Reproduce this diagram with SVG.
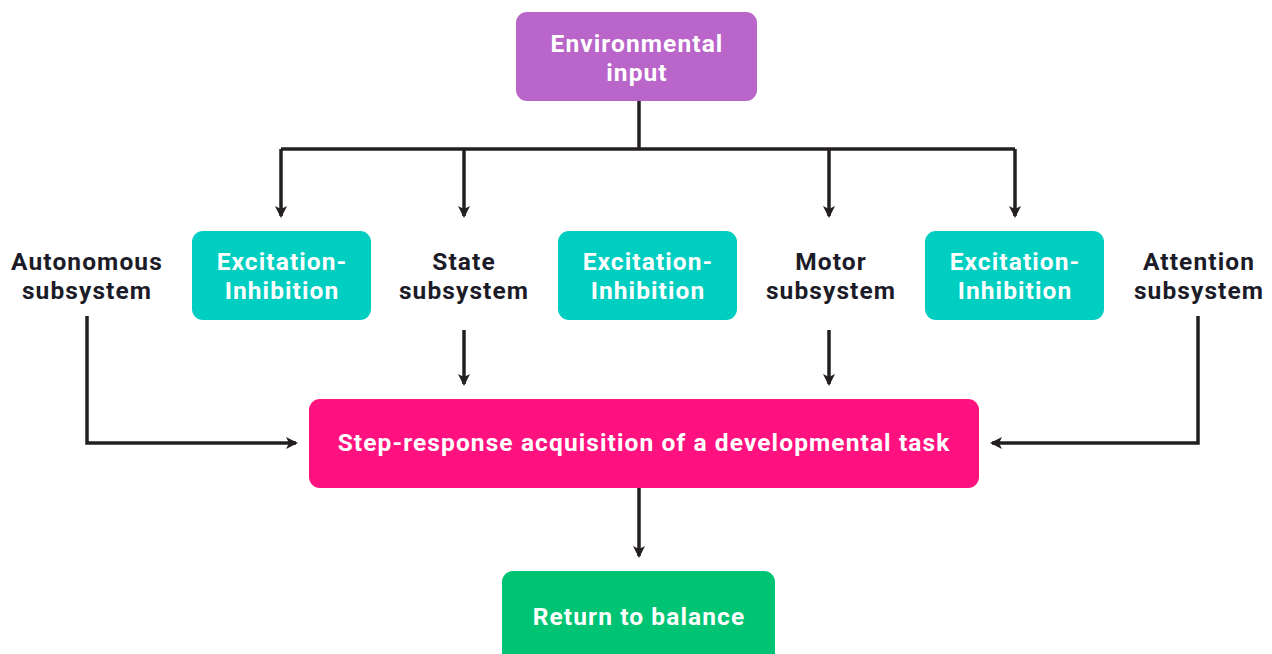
<svg xmlns="http://www.w3.org/2000/svg" width="1272" height="654" viewBox="0 0 1272 654">
<defs>
<marker id="ah" markerWidth="12" markerHeight="12" refX="10" refY="6" orient="auto" markerUnits="userSpaceOnUse">
<path d="M0,0 L12,6 L0,12 L3,6 Z" fill="#231f20"/>
</marker>
<style>
.t{font-family:Roboto,"Liberation Sans",sans-serif;font-weight:700;font-size:24.5px;letter-spacing:1.1px;text-anchor:middle}
.w{fill:#ffffff}
.d{fill:#1c1c28}
.c{fill:none;stroke:#231f20;stroke-width:3.5}
</style>
</defs>
<rect width="1272" height="654" fill="#ffffff"/>
<g id="connectors">
<path class="c" d="M639,101 V149"/>
<path class="c" d="M281,149 H1015"/>
<path class="c" d="M281,149 V216" marker-end="url(#ah)"/>
<path class="c" d="M464,149 V216" marker-end="url(#ah)"/>
<path class="c" d="M829,149 V216" marker-end="url(#ah)"/>
<path class="c" d="M1015,149 V216" marker-end="url(#ah)"/>
<path class="c" d="M87,316 V443 H296" marker-end="url(#ah)"/>
<path class="c" d="M464,330 V384" marker-end="url(#ah)"/>
<path class="c" d="M829,330 V384" marker-end="url(#ah)"/>
<path class="c" d="M1198,316 V443 H992" marker-end="url(#ah)"/>
<path class="c" d="M639,488 V556" marker-end="url(#ah)"/>
</g>
<g id="env">
<rect x="516" y="12" width="241" height="89" rx="11" fill="#b965c9"/>
<text class="t w"><tspan x="637" y="52">Environmental</tspan><tspan x="637" y="81">input</tspan></text>
</g>
<g id="ei1">
<rect x="192" y="231" width="179" height="89" rx="11" fill="#00cec0"/>
<text class="t w"><tspan x="282" y="270">Excitation-</tspan><tspan x="282" y="299">Inhibition</tspan></text>
</g>
<g id="ei2">
<rect x="558" y="231" width="179" height="89" rx="11" fill="#00cec0"/>
<text class="t w"><tspan x="648" y="270">Excitation-</tspan><tspan x="648" y="299">Inhibition</tspan></text>
</g>
<g id="ei3">
<rect x="925" y="231" width="179" height="89" rx="11" fill="#00cec0"/>
<text class="t w"><tspan x="1015" y="270">Excitation-</tspan><tspan x="1015" y="299">Inhibition</tspan></text>
</g>
<g id="autonomous">
<text class="t d"><tspan x="87" y="270">Autonomous</tspan><tspan x="87" y="299">subsystem</tspan></text>
</g>
<g id="state">
<text class="t d"><tspan x="464" y="270">State</tspan><tspan x="464" y="299">subsystem</tspan></text>
</g>
<g id="motor">
<text class="t d"><tspan x="831" y="270">Motor</tspan><tspan x="831" y="299">subsystem</tspan></text>
</g>
<g id="attention">
<text class="t d"><tspan x="1199" y="270">Attention</tspan><tspan x="1199" y="299">subsystem</tspan></text>
</g>
<g id="step">
<rect x="309" y="399" width="670" height="89" rx="11" fill="#ff1280"/>
<text class="t w" x="644" y="451">Step-response acquisition of a developmental task</text>
</g>
<g id="balance">
<rect x="502" y="571" width="273" height="100" rx="11" fill="#00c473"/>
<text class="t w" x="639" y="625">Return to balance</text>
</g>
</svg>
